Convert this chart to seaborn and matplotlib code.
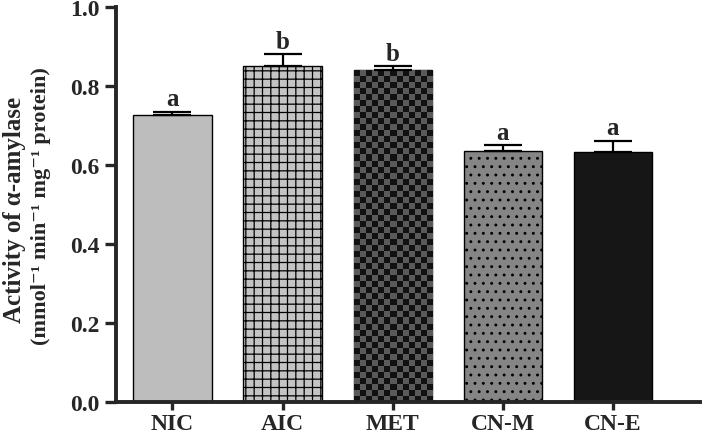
import numpy as np
import pandas as pd
import matplotlib
matplotlib.use("Agg")
import matplotlib.pyplot as plt
import seaborn as sns

# dados
grupos = ["NIC", "AIC", "MET", "CN-M", "CN-E"]
atividade = [0.726, 0.850, 0.840, 0.635, 0.634]
erro = [0.009, 0.030, 0.010, 0.015, 0.027]
letras = ["a", "b", "b", "a", "a"]

df = pd.DataFrame({"grupo": grupos, "atividade": atividade})

sns.set_style("ticks")
plt.rcParams["font.family"] = ["Liberation Serif", "DejaVu Serif"]
plt.rcParams["font.weight"] = "bold"
plt.rcParams["hatch.color"] = "black"
plt.rcParams["hatch.linewidth"] = 0.9

fig = plt.figure(figsize=(7.09, 4.39), dpi=100)
ax = fig.add_axes([0.164, 0.082, 0.823, 0.900])

cores = ["#bdbdbd", "#c4c4c4", "#4a4a4a", "#858585", "#161616"]
hatches = ["", "++", "", "..", ""]

sns.barplot(data=df, x="grupo", y="atividade", palette=cores, hue="grupo",
            legend=False, errorbar=None, width=0.71, ax=ax,
            edgecolor="black", linewidth=1.0, saturation=1)

for i, barra in enumerate(ax.patches):
    barra.set_hatch(hatches[i])
    if grupos[i] == "MET":
        # padrão xadrez
        x0, y0 = barra.get_x(), barra.get_y()
        w, h = barra.get_width(), barra.get_height()
        nx, ny = 13, 55
        xadrez = (np.add.outer(np.arange(ny), np.arange(nx)) % 2)
        img = ax.imshow(xadrez, cmap=matplotlib.colors.ListedColormap(["#111111", "#5a5a5a"]),
                        extent=[x0, x0 + w, y0, y0 + h], aspect="auto",
                        interpolation="nearest", zorder=barra.get_zorder() + 0.1)
        img.set_clip_path(barra)

ax.errorbar(range(len(grupos)), atividade, yerr=[np.zeros(len(erro)), erro],
            fmt="none", ecolor="black", elinewidth=1.6, capsize=14, capthick=1.6, zorder=5)

for i, letra in enumerate(letras):
    ax.text(i, atividade[i] + erro[i] + 0.004, letra, ha="center", va="bottom",
            fontsize=18, fontweight="bold")

ax.set_xlim(-0.51, 4.79)
ax.set_ylim(0, 1.0)
ax.set_yticks([0.0, 0.2, 0.4, 0.6, 0.8, 1.0])
ax.set_yticklabels(["0.0", "0.2", "0.4", "0.6", "0.8", "1.0"])
ax.set_xlabel("")
ax.set_ylabel("")

# rótulo do eixo y em duas linhas
fig.text(15 / 709, 1 - 210 / 439, "Activity of α-amylase", rotation=90,
         ha="center", va="center", fontsize=18, fontweight="bold")
fig.text(41 / 709, 1 - 206 / 439, "(mmol⁻¹ min⁻¹ mg⁻¹ protein)", rotation=90,
         ha="center", va="center", fontsize=16, fontweight="bold")

ax.tick_params(axis="y", labelsize=17, width=2.4, length=8, direction="out", pad=4)
ax.tick_params(axis="x", labelsize=17, width=2.4, length=6, direction="out", pad=2)
for lab in ax.get_xticklabels() + ax.get_yticklabels():
    lab.set_fontweight("bold")

sns.despine(ax=ax)
for s in ["left", "bottom"]:
    ax.spines[s].set_linewidth(2.8)

fig.savefig("out.png", dpi=100)
